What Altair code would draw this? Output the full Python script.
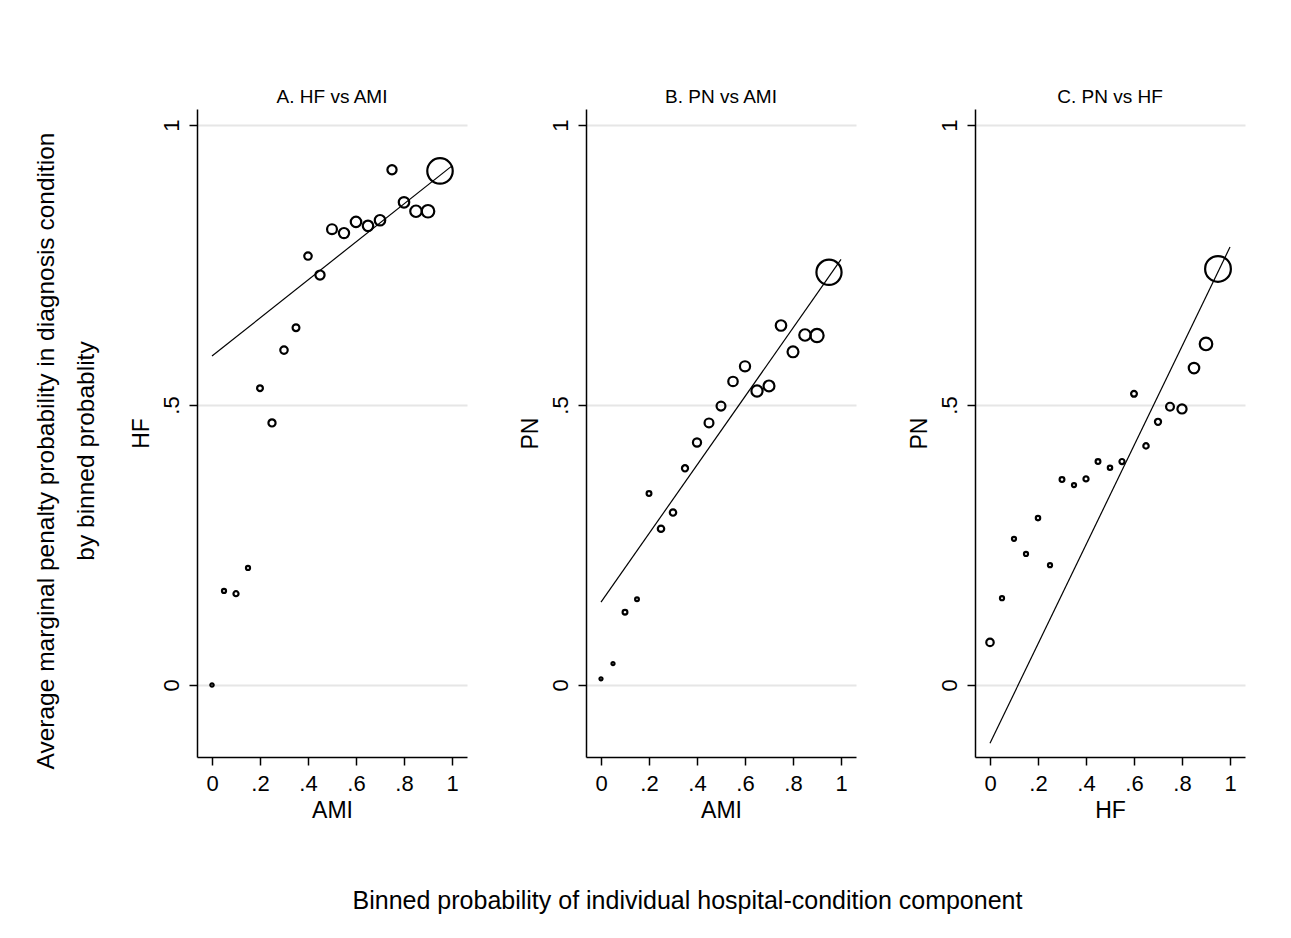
import altair as alt
import pandas as pd

FONT = "Liberation Sans"

# ---- data ----
bins = [0.0, 0.05, 0.10, 0.15, 0.20, 0.25, 0.30, 0.35, 0.40, 0.45,
        0.50, 0.55, 0.60, 0.65, 0.70, 0.75, 0.80, 0.85, 0.90, 0.95]

panel_titles = ["A. HF vs AMI", "B. PN vs AMI", "C. PN vs HF"]
x_titles = ["AMI", "AMI", "HF"]
y_titles = ["HF", "PN", "PN"]

hf_vs_ami = [0.000, 0.168, 0.163, 0.209, 0.530, 0.468, 0.598, 0.638, 0.766, 0.732,
             0.814, 0.807, 0.827, 0.820, 0.830, 0.920, 0.862, 0.846, 0.846, 0.918]
pn_vs_ami = [0.011, 0.038, 0.130, 0.153, 0.342, 0.279, 0.308, 0.387, 0.433, 0.468,
             0.498, 0.542, 0.569, 0.525, 0.534, 0.642, 0.595, 0.625, 0.624, 0.737]
pn_vs_hf = [0.076, 0.155, 0.261, 0.234, 0.298, 0.214, 0.367, 0.357, 0.368, 0.399,
            0.388, 0.399, 0.520, 0.427, 0.470, 0.497, 0.493, 0.566, 0.609, 0.743]

# relative bin weights (marker area is proportional to weight)
w_hf_vs_ami = [8.6, 12.6, 19.6, 12.6, 25.5, 38.5, 42, 35, 42, 64,
               74, 79, 83, 83, 83, 64, 83, 100, 119, 491]
w_pn_vs_ami = [7.1, 7.1, 17.3, 10.8, 17.3, 31.2, 31.2, 28.3, 50.3, 59.4,
               59.4, 68, 78.5, 95, 90, 83.3, 90, 100, 133, 479]
w_pn_vs_hf = [41.9, 12.6, 12.6, 12.6, 14.5, 12.6, 17.3, 12.6, 19.6, 17.3,
              14.5, 19.6, 25.5, 22, 28.3, 46.6, 63.6, 83.3, 119, 503]

# fitted lines: value at x=0 and at x=1
fit_at_zero = [0.5875, 0.148, -0.104]
fit_at_one = [0.927, 0.760, 0.782]
fit_x = [0.0, 1.0]

x_ticks = [0, 0.2, 0.4, 0.6, 0.8, 1]
y_ticks = [0, 0.5, 1]

y_big_title = ["Average marginal penalty probability in diagnosis condition",
               "by binned probablity"]
x_big_title = "Binned probability of individual hospital-condition component"

series = [hf_vs_ami, pn_vs_ami, pn_vs_hf]
weights = [w_hf_vs_ami, w_pn_vs_ami, w_pn_vs_hf]

LABEL_EXPR = ("datum.value == 0 ? '0' : datum.value == 1 ? '1' : "
              "replace(format(datum.value, '.1f'), '0.', '.')")

xs = alt.Scale(domain=[-0.0625, 1.0625], nice=False, zero=False)
ys = alt.Scale(domain=[-0.1286, 1.0286], nice=False, zero=False)


def panel(i):
    df = pd.DataFrame({"x": bins, "y": series[i], "w": weights[i]})
    fit = pd.DataFrame({"x": fit_x, "y": [fit_at_zero[i], fit_at_one[i]]})

    xaxis = alt.Axis(values=x_ticks, labelExpr=LABEL_EXPR, title=x_titles[i],
                     grid=False, tickSize=8, labelPadding=8, titlePadding=5,
                     labelFontSize=22, titleFontSize=23, titleFontWeight="normal",
                     domainColor="black", tickColor="black", domainWidth=1.5,
                     tickWidth=1.5, labelColor="black", titleColor="black",
                     labelFont=FONT, titleFont=FONT)
    yaxis = alt.Axis(values=y_ticks, labelExpr=LABEL_EXPR, title=y_titles[i],
                     grid=True, gridColor="#e6e6e6", gridWidth=2,
                     tickSize=8, labelPadding=6, titlePadding=7,
                     labelAngle=270, labelAlign="center", labelBaseline="bottom",
                     labelFontSize=22, titleFontSize=23, titleFontWeight="normal",
                     domainColor="black", tickColor="black", domainWidth=1.5,
                     tickWidth=1.5, labelColor="black", titleColor="black",
                     labelFont=FONT, titleFont=FONT)

    line = alt.Chart(fit).mark_line(color="black", strokeWidth=1.2).encode(
        x=alt.X("x:Q", scale=xs, axis=xaxis),
        y=alt.Y("y:Q", scale=ys, axis=yaxis),
    )
    pts = alt.Chart(df).mark_point(shape="circle", filled=False, color="black",
                                   strokeWidth=2.2, opacity=1).encode(
        x=alt.X("x:Q", scale=xs),
        y=alt.Y("y:Q", scale=ys),
        size=alt.Size("w:Q", scale=alt.Scale(domain=[0, 500], range=[0, 660]),
                      legend=None),
    )
    layers = [line, pts]
    if i == 0:
        big = alt.Chart(pd.DataFrame({"k": [0]})).mark_text(
            text=y_big_title, angle=270, fontSize=24.5, lineHeight=40,
            align="center", baseline="middle", font=FONT, color="black"
        ).encode(x=alt.value(-150), y=alt.value(342))
        layers.append(big)
    return alt.layer(*layers).properties(
        width=270, height=648,
        title=alt.TitleParams(panel_titles[i], fontSize=19, fontWeight="normal",
                              font=FONT, color="black", anchor="middle", offset=2),
    )


chart = alt.hconcat(panel(0), panel(1), panel(2), spacing=52).properties(
    title=alt.TitleParams(x_big_title, orient="bottom", anchor="middle",
                          fontSize=25, fontWeight="normal", font=FONT,
                          color="black", dx=48, offset=67),
    padding={"left": 25, "top": 80, "right": 5, "bottom": 5},
).configure_view(stroke=None)

chart.save("out.html", embed_options={"renderer": "svg", "actions": False})
